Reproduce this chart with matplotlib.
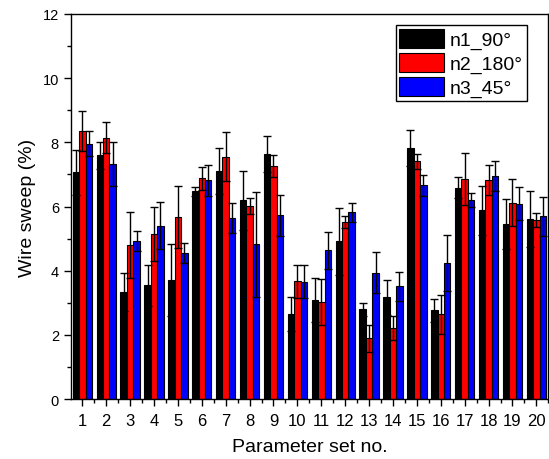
import numpy as np
import matplotlib
matplotlib.use("Agg")
import matplotlib.pyplot as plt
from matplotlib.ticker import MultipleLocator

plt.rcParams['font.family'] = ['Liberation Sans', 'DejaVu Sans']

# parameter sets 1..20
sets = list(range(1, 21))

# mean wire sweep (%) per orientation
n1_90 = [7.06, 7.59, 3.33, 3.55, 3.70, 6.47, 7.11, 6.19, 7.63, 2.66,
         3.09, 4.91, 2.79, 3.17, 7.82, 2.76, 6.59, 5.88, 5.44, 5.60]
n2_180 = [8.36, 8.15, 4.80, 5.15, 5.67, 6.88, 7.55, 6.01, 7.26, 3.67,
          3.03, 5.51, 1.89, 2.21, 7.41, 2.64, 6.86, 6.83, 6.12, 5.58]
n3_45 = [7.96, 7.32, 4.93, 5.40, 4.54, 6.82, 5.63, 4.82, 5.72, 3.66,
         4.63, 5.82, 3.94, 3.51, 6.66, 4.25, 6.20, 6.96, 6.09, 5.69]

# error (half bar length)
n1_err = [0.70, 0.43, 0.60, 0.64, 1.12, 0.15, 0.72, 0.92, 0.56, 0.53,
          0.69, 1.04, 0.21, 0.54, 0.56, 0.36, 0.33, 0.76, 0.78, 0.87]
n2_err = [0.63, 0.49, 1.03, 0.84, 0.97, 0.35, 0.77, 0.25, 0.33, 0.52,
          0.71, 0.19, 0.43, 0.37, 0.23, 0.61, 0.80, 0.46, 0.73, 0.21]
n3_err = [0.39, 0.69, 0.31, 0.73, 0.31, 0.48, 0.47, 1.63, 0.65, 0.52,
          0.59, 0.30, 0.65, 0.44, 0.33, 0.87, 0.23, 0.47, 0.52, 0.62]

labels = ["n1_90°", "n2_180°", "n3_45°"]
colors = ["black", "red", "blue"]

fig = plt.figure(figsize=(5.49, 4.60), dpi=100)
ax = fig.add_axes([0.1288, 0.1304, 0.870, 0.837])

x = np.array(sets)
w = 0.27
series = [(n1_90, n1_err), (n2_180, n2_err), (n3_45, n3_err)]
for i, (vals, errs) in enumerate(series):
    pos = x + (i - 1) * w
    ax.bar(pos, vals, width=w, color=colors[i], edgecolor="black",
           linewidth=0.8, label=labels[i], zorder=2)
    ax.errorbar(pos, vals, yerr=errs, fmt="none", ecolor="black",
                elinewidth=1.0, capsize=3, capthick=1.0, zorder=3)

ax.set_xlim(0.515, 20.5)
ax.set_ylim(0, 12)
ax.set_xticks(sets)
ax.xaxis.set_minor_locator(MultipleLocator(0.5))
ax.yaxis.set_major_locator(MultipleLocator(2))
ax.yaxis.set_minor_locator(MultipleLocator(1))
ax.tick_params(which="major", direction="out", length=5, width=1)
ax.tick_params(which="minor", direction="out", length=3, width=1)
ax.tick_params(axis="y", labelsize=10.5)
ax.tick_params(axis="x", labelsize=12, pad=5)
for s in ax.spines.values():
    s.set_linewidth(1.0)

ax.set_xlabel("Parameter set no.", fontsize=14, labelpad=7)
ax.set_ylabel("Wire sweep (%)", fontsize=14, labelpad=5)

leg = ax.legend(loc="upper right", bbox_to_anchor=(0.955, 0.971), fontsize=14,
                handlelength=2.3, handleheight=1.15, labelspacing=0.18,
                handletextpad=0.3, borderpad=0.2, borderaxespad=0,
                fancybox=False, framealpha=1, edgecolor="black")
leg.get_frame().set_linewidth(1.0)

fig.savefig("out.png", dpi=100)
